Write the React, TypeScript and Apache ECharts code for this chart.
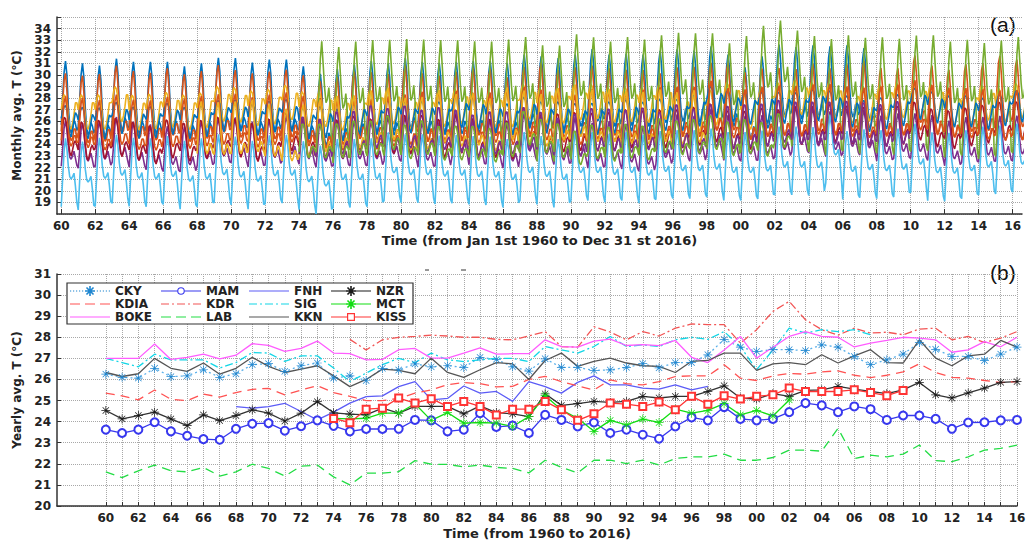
import React, { useEffect, useRef } from "react";
import * as echarts from "echarts";

// ---------- categories ----------
const YEARS: number[] = Array.from({ length: 57 }, (_, i) => 1960 + i);
const EVEN_YEARS: number[] = YEARS.filter((y) => y % 2 === 0);
const MONTHS: number[] = [0, 1, 2, 3, 4, 5, 6, 7, 8, 9, 10, 11];
const N = null;

// ---------- yearly averages (panel b), 1960..2016 ----------
const CKY = [26.25, 26.1, 26.06, 26.53, 26.13, 26.17, 26.46, 26.1, 26.27, 26.7,
  26.75, 26.38, 26.65, 26.78, 26.06, 26.17, 25.95, 26.53, 26.45, 26.74,
  26.6, 26.65, 26.57, 27.05, 26.95, 26.6, 26.4, 26.98, 26.57, 26.57,
  26.43, 26.45, 26.57, 26.75, 26.55, 26.8, 26.8, 27.17, 27.9, 27.53,
  27.33, 27.41, 27.41, 27.37, 27.64, 27.53, 27.09, 26.7, 26.93, 27.2,
  27.75, 27.43, 27.09, 27.09, 26.9, 27.2, 27.53];
const MAM = [23.62, 23.46, 23.62, 23.97, 23.54, 23.33, 23.17, 23.14, 23.66, 23.9,
  23.93, 23.57, 23.78, 24.06, 23.8, 23.54, 23.65, 23.65, 23.66, 24.08,
  24.06, 23.54, 23.62, 24.4, 23.75, 23.81, 23.46, 24.32, 24.08, 23.77,
  23.96, 23.46, 23.62, 23.38, 23.19, 23.77, 24.2, 24.06, 24.69, 24.13,
  24.06, 24.13, 24.45, 24.88, 24.77, 24.45, 24.72, 24.59, 24.08, 24.29,
  24.29, 24.13, 23.66, 23.96, 23.97, 24.06, 24.08];
const FNH = [N, N, N, N, N, N, N, N, 24.71, 24.64,
  24.71, 24.87, 24.48, 24.08, 24.45, 24.88, 25.19, 25.22, 25.66, 25.9,
  25.03, 25.1, 25.69, 25.35, 25.43, 24.96, 25.9, 25.66, 25.35, 25.86,
  26.17, 25.74, 25.74, 25.59, 25.54, 25.74, 25.51, 25.67, N, N,
  N, N, N, N, N, N, N, N, N, N,
  N, N, N, N, N, N, N];
const NZR = [24.53, 24.13, 24.29, 24.45, 24.13, 23.81, 24.32, 24.05, 24.29, 24.56,
  24.4, 24.03, 24.4, 24.95, 24.42, 24.36, 24.32, 24.64, 24.4, 24.72,
  24.72, 24.72, 24.37, 24.75, 24.43, 24.37, 24.24, 25.32, 24.77, 24.85,
  24.96, 24.91, 24.96, 25.2, 25.12, 25.2, 25.2, 25.43, 25.7, 25.12,
  25.07, 25.33, 25.2, 25.48, 25.51, 25.67, 25.54, 25.43, 25.33, 25.51,
  25.86, 25.27, 25.12, 25.36, 25.59, 25.86, 25.9];
const KDIA = [25.35, 25.22, 25.03, 25.5, 25.06, 25.0, 25.31, 25.16, 25.38, 25.53,
  25.58, 25.27, 25.5, 25.7, 25.38, 25.2, 25.0, 25.0, 25.1, 25.35,
  25.5, 25.75, 25.85, 25.8, 25.65, 25.67, 26.0, 26.15, 25.9, 25.7,
  25.5, 25.98, 25.8, 25.74, 25.9, 26.14, 26.17, 26.17, 26.7, 26.06,
  25.95, 26.17, 26.28, 26.25, 26.36, 26.41, 26.2, 26.09, 26.2, 26.36,
  26.74, 26.33, 26.1, 26.06, 25.95, 25.85, 25.9];
const KDR = [N, N, N, N, N, N, N, N, N, N,
  N, N, N, N, N, 27.9, 27.4, 27.88, 28.0, 28.04,
  28.1, 28.06, 28.0, 28.0, 27.9, 27.88, 28.06, 28.27, 27.56, 27.53,
  28.5, 28.25, 27.88, 28.27, 28.06, 28.43, 28.63, 28.6, 28.6, 27.72,
  28.36, 29.23, 29.7, 28.83, 28.36, 28.1, 28.43, 28.2, 28.24, 28.12,
  28.39, 28.43, 27.88, 28.04, 27.75, 27.96, 28.27];
const SIG = [27.0, 26.8, 26.6, 27.2, 26.93, 26.93, 26.93, 26.54, 26.8, 27.28,
  27.25, 26.86, 27.12, 27.12, 26.54, 25.9, 26.3, 26.7, 27.0, 26.8,
  27.25, 26.93, 26.85, 26.93, 27.0, 27.0, 26.85, 27.56, 27.4, 27.25,
  27.56, 28.04, 27.56, 27.64, 27.56, 27.88, 28.0, 27.9, 28.27, 27.56,
  26.46, 27.4, 28.43, 28.2, 28.36, 28.27, 28.36, 28.12, N, N,
  N, N, N, N, N, N, N];
const MCT = [N, N, N, N, N, N, N, N, N, N,
  N, N, N, N, 24.15, 24.13, 24.16, 24.4, 24.4, 24.85,
  24.06, 24.43, 23.93, 23.96, 23.93, 23.77, 24.24, 25.23, 24.56, 24.16,
  23.54, 24.06, 23.85, 24.12, 23.96, 24.59, 24.4, 24.53, 24.85, 24.32,
  24.53, 24.27, 25.03, N, N, N, N, N, N, N,
  N, N, N, N, N, N, N];
const BOKE = [27.0, 27.0, 27.0, 27.68, 26.95, 27.05, 27.2, 26.98, 27.15, 27.7,
  27.62, 27.33, 27.47, 27.82, 27.25, 27.22, 26.93, 26.95, 27.41, 27.47,
  27.01, 27.01, 27.25, 27.5, 27.2, 27.22, 27.22, 27.88, 27.56, 27.53,
  27.82, 27.91, 27.61, 27.65, 27.6, 27.85, 27.05, 26.8, 27.4, 28.04,
  27.01, 27.53, 28.04, 28.27, 28.04, 28.0, 27.54, 27.72, 27.85, 28.0,
  27.96, 27.88, 27.29, 27.4, 27.79, 27.55, 28.0];
const LAB = [21.62, 21.35, 21.67, 21.94, 21.67, 21.62, 21.83, 21.42, 21.62, 21.98,
  21.78, 21.42, 21.89, 21.94, 21.38, 21.0, 21.56, 21.56, 21.63, 22.15,
  21.98, 21.97, 21.86, 21.94, 21.83, 21.78, 21.57, 22.17, 21.83, 21.57,
  22.17, 22.17, 22.01, 22.17, 21.94, 22.25, 22.33, 22.33, 22.46, 22.17,
  22.17, 22.3, 22.65, 22.65, 22.6, 23.68, 22.25, 22.41, 22.33, 22.46,
  22.89, 22.15, 22.1, 22.33, 22.65, 22.73, 22.89];
const KKN = [26.33, 26.14, 26.27, 27.0, 26.53, 26.38, 26.78, 26.25, 26.53, 27.05,
  26.62, 26.33, 26.49, 26.65, 26.17, 25.66, 26.0, 26.49, 26.43, 26.27,
  27.01, 26.33, 26.1, 26.46, 26.8, 26.74, 26.0, 26.9, 27.25, 26.62,
  26.86, 27.01, 26.78, 26.65, 26.62, 26.33, 26.86, 26.9, 27.25, 27.25,
  26.43, 26.74, 26.8, 26.7, 27.17, 26.78, 27.12, 27.41, 26.8, 26.78,
  27.88, 27.01, 26.65, 27.12, 27.2, 27.85, 27.53];
const KISS = [N, N, N, N, N, N, N, N, N, N,
  N, N, N, N, 24.15, 23.95, 24.59, 24.64, 25.12, 24.88,
  25.09, 24.72, 24.96, 24.72, 24.32, 24.59, 24.59, 24.96, 24.56, 24.06,
  24.37, 24.88, 24.83, 24.72, 24.93, 24.56, 25.2, 24.83, 25.23, 25.07,
  25.2, 25.27, 25.59, 25.43, 25.43, 25.43, 25.51, 25.38, 25.23, 25.48,
  N, N, N, N, N, N, N];

// ---------- monthly departures from the yearly mean (panel a), Jan..Dec ----------
const P_SIG = [-1.3, 1.0, 3.2, 4.2, 3.0, 0.3, -1.4, -2.0, -1.7, -0.9, -1.2, -1.8];
const P_KKN = [-1.2, 1.2, 3.2, 3.8, 2.3, 0.0, -1.5, -2.0, -1.8, -1.0, -1.0, -1.8];
const P_BOKE = [0.0, 0.9, 1.3, 1.1, 0.4, -0.7, -1.5, -1.7, -1.2, -0.4, 0.6, 0.6];
const P_MAM = [-1.5, 0.0, 1.8, 2.4, 1.6, 0.3, -0.7, -0.9, -0.6, -0.2, -0.8, -1.4];
const P_KDR = [-5.0, -3.0, 0.5, 3.5, 5.0, 3.0, 1.0, -0.3, 0.0, 1.0, -0.5, -4.5];
const P_LAB = [-3.0, -0.5, 1.8, 2.9, 2.0, 0.5, -0.4, -0.6, -0.4, -0.1, -1.2, -2.6];
const P_NZR = [-0.6, 1.0, 1.8, 1.7, 1.0, -0.2, -1.2, -1.5, -1.0, -0.4, -0.2, -0.6];
const P_CKY = [0.0, 0.6, 1.0, 1.1, 0.8, -0.3, -1.3, -1.6, -0.9, -0.2, 0.5, 0.3];
const P_KDIA = [-1.0, 0.8, 2.3, 2.8, 1.6, 0.0, -1.2, -1.5, -1.2, -0.6, -0.6, -1.2];
const P_FNH = [-1.5, 0.8, 2.6, 3.0, 1.8, 0.0, -1.2, -1.5, -1.2, -0.6, -0.8, -1.4];
const P_KISS = [-1.0, 1.0, 2.2, 2.2, 1.2, -0.2, -1.2, -1.4, -1.0, -0.5, -0.3, -1.0];
const P_MCT = [-0.8, 0.8, 1.6, 1.6, 1.0, -0.2, -1.1, -1.3, -0.9, -0.4, -0.3, -0.6];

// ---------- styling ----------
const FONT = "'DejaVu Sans', 'Noto Sans', sans-serif";
const MATLAB = ["#0072BD", "#D95319", "#EDB120", "#7E2F8E", "#77AC30", "#4DBEEE", "#A2142F"];
const STAR =
  "path://M9.2,0h1.6v20h-1.6z M0,9.2h20v1.6h-20z M2.4,3.5L3.5,2.4L17.6,16.5L16.5,17.6z M16.5,2.4L17.6,3.5L3.5,17.6L2.4,16.5z";

// legend icon shapes in a 40 x 10 box
const I_STAR =
  "M19.2,0h1.6v10h-1.6z M15,4.2h10v1.6h-10z M15.9,2.05L17.05,0.9L24.1,7.95L22.95,9.1z M22.95,0.9L24.1,2.05L17.05,9.1L15.9,7.95z";
const I_SOLID = "M0,4.4h40v1.2h-40z";
const I_DASH = "M0,4.4h10v1.2h-10z M15,4.4h10v1.2h-10z M30,4.4h10v1.2h-10z";
const I_DASHDOT =
  "M0,4.4h8v1.2h-8z M11,4.4h2v1.2h-2z M16,4.4h8v1.2h-8z M27,4.4h2v1.2h-2z M32,4.4h8v1.2h-8z";
const I_DOTS = [0, 3, 6, 9, 12, 26.8, 29.8, 32.8, 35.8, 38.8]
  .map((x) => `M${x},4.4h1.2v1.2h-1.2z`)
  .join(" ");
const I_RING =
  "M0,4.4h16.2v1.2h-16.2z M23.8,4.4h16.2v1.2h-16.2z M23.8,5A3.8,3.8 0 1 1 16.2,5A3.8,3.8 0 1 1 23.8,5z M22.7,5A2.7,2.7 0 1 0 17.3,5A2.7,2.7 0 1 0 22.7,5z";
const I_SQUARE =
  "M0,4.4h16v1.2h-16z M24,4.4h16v1.2h-16z M16,1h8v8h-8z M17.2,2.2v5.6h5.6v-5.6z";

const monthlySeriesSpec: [string, (number | null)[], number[]][] = [
  ["SIG", SIG, P_SIG],
  ["KKN", KKN, P_KKN],
  ["BOKE", BOKE, P_BOKE],
  ["MAM", MAM, P_MAM],
  ["KDR", KDR, P_KDR],
  ["LAB", LAB, P_LAB],
  ["NZR", NZR, P_NZR],
  ["CKY", CKY, P_CKY],
  ["KDIA", KDIA, P_KDIA],
  ["FNH", FNH, P_FNH],
  ["KISS", KISS, P_KISS],
  ["MCT", MCT, P_MCT],
];

function monthlyData(vals: (number | null)[], prof: number[]) {
  const out: [number, number | null][] = [];
  YEARS.forEach((y, i) => {
    MONTHS.forEach((m) => {
      const v = vals[i];
      out.push([y + m / 12, v == null ? null : Math.round((v + prof[m]) * 100) / 100]);
    });
  });
  return out;
}

function yearly(vals: (number | null)[]) {
  return YEARS.map((y, i) => [y, vals[i]]);
}

const yearlySpec: any[] = [
  { name: "CKY", data: CKY, color: "#1f86d0", line: "#5ab0ea", type: [2, 3], symbol: STAR, size: 9, border: 0, icon: I_DOTS + " " + I_STAR },
  { name: "MAM", data: MAM, color: "#3838ee", line: "#3838ee", type: "solid", symbol: "emptyCircle", size: 8, border: 1.1, icon: I_RING },
  { name: "FNH", data: FNH, color: "#5c5cf6", line: "#5c5cf6", type: "solid", symbol: "none", size: 0, border: 0, icon: I_SOLID },
  { name: "NZR", data: NZR, color: "#1a1a1a", line: "#333333", type: "solid", symbol: STAR, size: 9, border: 0, icon: I_SOLID + " " + I_STAR },
  { name: "KDIA", data: KDIA, color: "#ff5252", line: "#ff5252", type: [9, 6], symbol: "none", size: 0, border: 0, icon: I_DASH },
  { name: "KDR", data: KDR, color: "#f25454", line: "#f25454", type: [8, 3, 2, 3], symbol: "none", size: 0, border: 0, icon: I_DASHDOT },
  { name: "SIG", data: SIG, color: "#12d6e6", line: "#12d6e6", type: [8, 3, 2, 3], symbol: "none", size: 0, border: 0, icon: I_DASHDOT },
  { name: "MCT", data: MCT, color: "#12dd12", line: "#12dd12", type: "solid", symbol: STAR, size: 9, border: 0, icon: I_SOLID + " " + I_STAR },
  { name: "BOKE", data: BOKE, color: "#ff5cff", line: "#ff5cff", type: "solid", symbol: "none", size: 0, border: 0, icon: I_SOLID },
  { name: "LAB", data: LAB, color: "#22dd44", line: "#22dd44", type: [9, 6], symbol: "none", size: 0, border: 0, icon: I_DASH },
  { name: "KKN", data: KKN, color: "#555555", line: "#555555", type: "solid", symbol: "none", size: 0, border: 0, icon: I_SOLID },
  { name: "KISS", data: KISS, color: "#ff3434", line: "#ff3434", type: "solid", symbol: "emptyRect", size: 7, border: 1, icon: I_SQUARE },
];

const LEGEND_COLUMNS = [
  { left: 70, names: ["CKY", "KDIA", "BOKE"] },
  { left: 161, names: ["MAM", "KDR", "LAB"] },
  { left: 249, names: ["FNH", "SIG", "KKN"] },
  { left: 331, names: ["NZR", "MCT", "KISS"] },
];

const axisLabelStyle = { fontFamily: FONT, fontWeight: "bold" as const, fontSize: 12, color: "#222" };
const axisNameStyle = { fontFamily: FONT, fontWeight: "bold" as const, fontSize: 13, color: "#222" };
const axisLineStyle = { show: true, lineStyle: { color: "#333", width: 1.5 } };
const gridLineStyle = { show: true, lineStyle: { color: "#a8a8a8", type: "dotted" as const, width: 1 } };
const twoDigit = (v: number) => String(Math.round(v) % 100).padStart(2, "0");

function buildOption(): any {
  const series: any[] = [];
  monthlySeriesSpec.forEach(([name, vals, prof], i) => {
    series.push({
      name: name + " monthly",
      type: "line",
      xAxisIndex: 0,
      yAxisIndex: 0,
      data: monthlyData(vals, prof),
      showSymbol: false,
      symbol: "none",
      lineStyle: { color: MATLAB[i % 7], width: 1.6 },
      itemStyle: { color: MATLAB[i % 7] },
      silent: true,
      z: 2,
    });
  });
  yearlySpec.forEach((s) => {
    series.push({
      name: s.name,
      type: "line",
      xAxisIndex: 1,
      yAxisIndex: 1,
      data: yearly(s.data),
      symbol: s.symbol,
      symbolSize: s.size,
      showSymbol: s.symbol !== "none",
      lineStyle: { color: s.line, width: 1.3, type: s.type },
      itemStyle: { color: s.color, borderColor: s.color, borderWidth: s.border },
      silent: true,
      z: 2,
    });
  });

  const iconOf = (n: string) => "path://" + yearlySpec.find((s) => s.name === n).icon;

  return {
    animation: false,
    backgroundColor: "#ffffff",
    textStyle: { fontFamily: FONT },
    grid: [
      { left: 57, top: 17, width: 965, height: 197, outerBoundsMode: "none" },
      { left: 57, top: 274, width: 960, height: 232, outerBoundsMode: "none" },
    ],
    xAxis: [
      {
        type: "value",
        gridIndex: 0,
        min: 1959.75,
        max: 2016.55,
        name: "Time (from Jan 1st 1960 to Dec 31 st 2016)",
        nameLocation: "middle",
        nameGap: 20,
        nameTextStyle: axisNameStyle,
        axisLine: axisLineStyle,
        axisTick: { show: true, inside: true, length: 5, lineStyle: { color: "#333" }, customValues: EVEN_YEARS },
        axisLabel: { ...axisLabelStyle, margin: 6, formatter: twoDigit, customValues: EVEN_YEARS },
        splitLine: gridLineStyle,
      },
      {
        type: "value",
        gridIndex: 1,
        min: 1957,
        max: 2016,
        name: "Time (from 1960 to 2016)",
        nameLocation: "middle",
        nameGap: 21,
        nameTextStyle: axisNameStyle,
        axisLine: axisLineStyle,
        axisTick: { show: true, inside: true, length: 4, lineStyle: { color: "#333" }, customValues: YEARS },
        axisLabel: { ...axisLabelStyle, margin: 6, formatter: twoDigit, customValues: EVEN_YEARS },
        splitLine: gridLineStyle,
      },
    ],
    yAxis: [
      {
        type: "value",
        gridIndex: 0,
        min: 18,
        max: 35,
        interval: 1,
        name: "Monthly avg. T (°C)",
        nameLocation: "middle",
        nameGap: 33,
        nameRotate: 90,
        nameTextStyle: { ...axisNameStyle, fontSize: 12 },
        axisLine: axisLineStyle,
        axisTick: { show: true, inside: true, length: 4, lineStyle: { color: "#333" } },
        axisLabel: { ...axisLabelStyle, margin: 6, formatter: (v: number) => (v >= 35 ? "" : String(v)) },
        splitLine: gridLineStyle,
      },
      {
        type: "value",
        gridIndex: 1,
        min: 20,
        max: 31,
        interval: 1,
        name: "Yearly avg. T (°C)",
        nameLocation: "middle",
        nameGap: 33,
        nameRotate: 90,
        nameTextStyle: { ...axisNameStyle, fontSize: 12 },
        axisLine: axisLineStyle,
        axisTick: { show: true, inside: true, length: 4, lineStyle: { color: "#333" } },
        axisLabel: { ...axisLabelStyle, margin: 6 },
        splitLine: gridLineStyle,
      },
    ],
    legend: LEGEND_COLUMNS.map((c) => ({
      orient: "vertical",
      left: c.left,
      top: 285,
      padding: 0,
      itemGap: 1,
      itemWidth: 40,
      itemHeight: 10,
      selectedMode: false,
      symbolKeepAspect: true,
      itemStyle: { borderWidth: 0 },
      data: c.names.map((n) => ({ name: n, icon: iconOf(n) })),
      textStyle: { fontFamily: FONT, fontWeight: "bold", fontSize: 12, color: "#222", lineHeight: 12 },
      z: 5,
    })),
    graphic: [
      {
        type: "rect",
        z: 3,
        shape: { x: 67, y: 283, width: 346, height: 41 },
        style: { fill: "#ffffff", stroke: "#333333", lineWidth: 1.2 },
        silent: true,
      },
      {
        type: "text",
        left: 990,
        top: 14,
        style: { text: "(a)", font: "21px 'Liberation Sans', sans-serif", fill: "#111" },
        silent: true,
      },
      {
        type: "text",
        left: 990,
        top: 262,
        style: { text: "(b)", font: "21px 'Liberation Sans', sans-serif", fill: "#111" },
        silent: true,
      },
      {
        type: "line",
        shape: { x1: 425, y1: 270, x2: 429, y2: 270 },
        style: { stroke: "#333", lineWidth: 1 },
        silent: true,
      },
      {
        type: "line",
        shape: { x1: 461, y1: 270, x2: 466, y2: 270 },
        style: { stroke: "#333", lineWidth: 1 },
        silent: true,
      },
    ],
    series,
  };
}

export default function App() {
  const ref = useRef<HTMLDivElement>(null);
  useEffect(() => {
    if (!ref.current) return;
    const chart = echarts.init(ref.current, null, { renderer: "svg" });
    chart.setOption(buildOption());
    return () => chart.dispose();
  }, []);
  return (
    <div
      ref={ref}
      style={{ position: "fixed", left: 0, top: 0, width: 1026, height: 543, background: "#fff" }}
    />
  );
}
